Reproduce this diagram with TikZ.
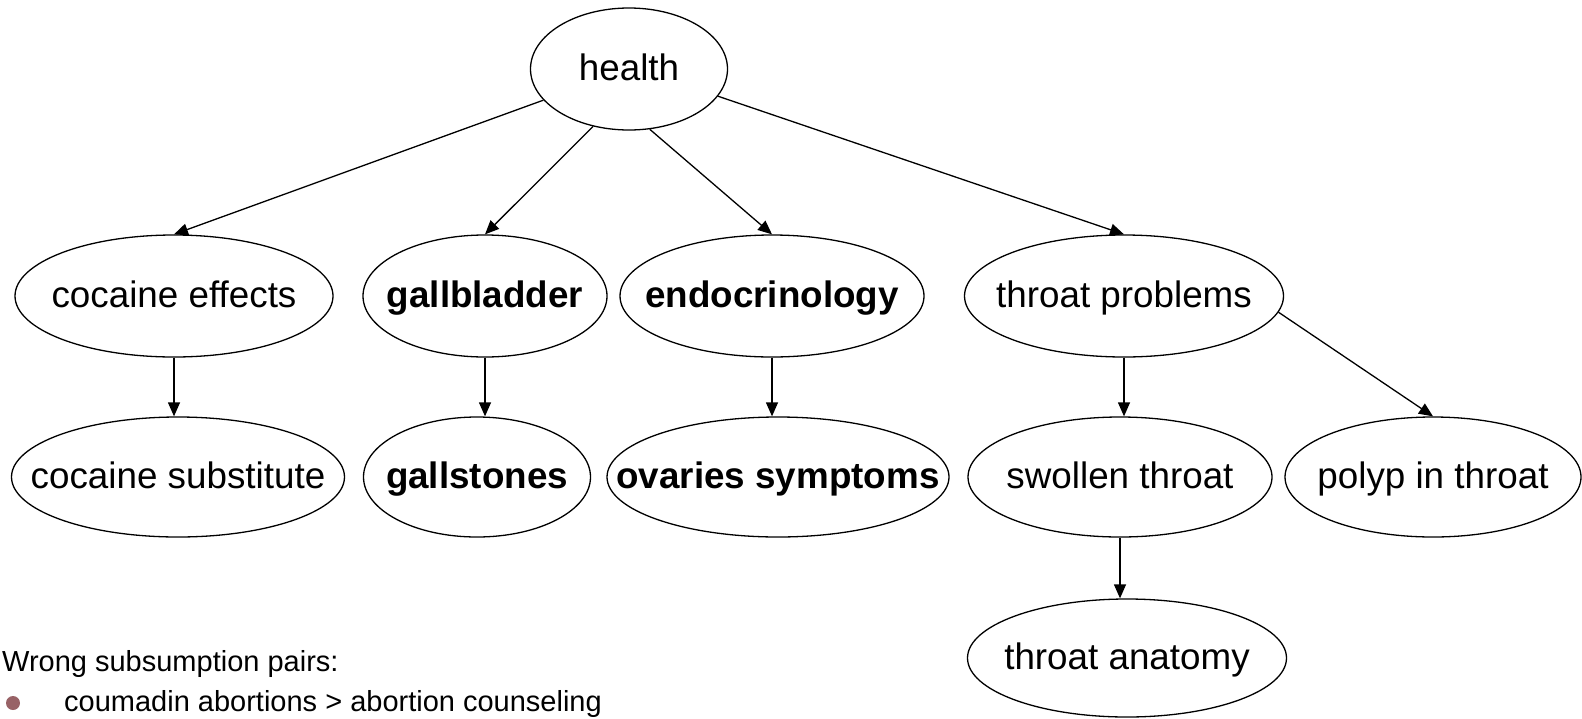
\documentclass[tikz,border=0pt]{standalone}
\usepackage{fontspec}
\setmainfont{Liberation Sans}
\usetikzlibrary{arrows.meta,shapes.geometric}
\definecolor{bulletbrown}{RGB}{152,98,102}
% zero-width box so that the ellipse keeps the size it is given
\newcommand{\conceptlabel}[1]{\makebox[0pt][c]{#1}}
\begin{document}
\begin{tikzpicture}[x=1pt,y=-1pt,
  concept/.style={draw, ellipse, line width=1.3pt, inner sep=0pt,
    font=\fontsize{36.8}{40}\selectfont, text height=27pt, text depth=3.5pt},
  keyconcept/.style={concept, font=\fontsize{36.8}{40}\selectfont\bfseries},
  link/.style={-{Triangle[length=14pt,width=12pt]}, line width=1.3pt},
  caption/.style={font=\fontsize{29}{33}\selectfont, inner sep=0pt, anchor=base west}]
\useasboundingbox (0,0) rectangle (1582,718);

% top concept
\node[concept, minimum width=197pt, minimum height=122pt] (health) at (629,69) {\conceptlabel{health}};

% first level
\node[concept, minimum width=318pt, minimum height=122pt] (ce) at (174,296) {\conceptlabel{cocaine effects}};
\node[keyconcept, minimum width=244pt, minimum height=122pt] (gb) at (485,296) {\conceptlabel{gallbladder}};
\node[keyconcept, minimum width=304pt, minimum height=122pt] (en) at (772,296) {\conceptlabel{endocrinology}};
\node[concept, minimum width=319pt, minimum height=122pt] (tp) at (1124,296) {\conceptlabel{throat problems}};

% second level
\node[concept, minimum width=333pt, minimum height=120pt] (cs) at (178,477) {\conceptlabel{cocaine substitute}};
\node[keyconcept, minimum width=227pt, minimum height=120pt] (gs) at (477,477) {\conceptlabel{gallstones}};
\node[keyconcept, minimum width=342pt, minimum height=120pt] (ov) at (778,477) {\conceptlabel{ovaries symptoms}};
\node[concept, minimum width=304pt, minimum height=120pt] (st) at (1120,477) {\conceptlabel{swollen throat}};
\node[concept, minimum width=296pt, minimum height=120pt] (pt) at (1433,477) {\conceptlabel{polyp in throat}};

% third level
\node[concept, minimum width=319pt, minimum height=118pt] (ta) at (1127,658) {\conceptlabel{throat anatomy}};

% subsumption links
\draw[link] (health.200) -- (ce.north);
\draw[link] (health.238) -- (gb.north);
\draw[link] (health.289) -- (en.north);
\draw[link] (health.343) -- (tp.north);
\draw[link] (ce.south) -- (ce.south |- cs.north);
\draw[link] (gb.south) -- (gb.south |- gs.north);
\draw[link] (en.south) -- (en.south |- ov.north);
\draw[link] (tp.south) -- (tp.south |- st.north);
\draw[link] (tp.354) -- (pt.north);
\draw[link] (st.south) -- (st.south |- ta.north);

% list of wrong pairs
\node[caption] (title) at (2,671) {Wrong subsumption pairs:};
\node[circle, fill=bulletbrown, minimum size=14pt, inner sep=0pt] (dot) at (13,703) {};
\node[caption] (pair) at (64,711) {coumadin abortions > abortion counseling};
\end{tikzpicture}
\end{document}
